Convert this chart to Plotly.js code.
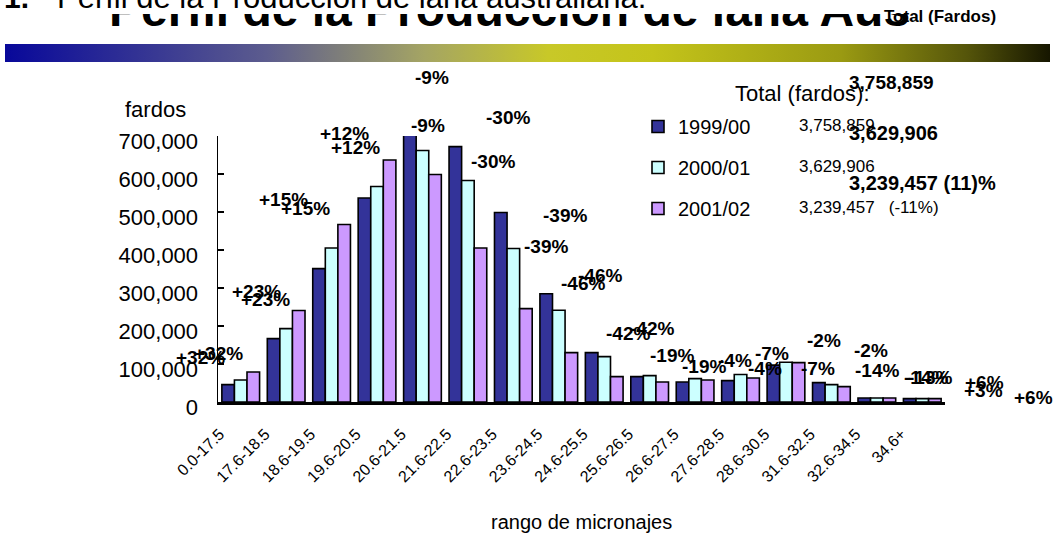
<!DOCTYPE html>
<html><head><meta charset="utf-8">
<script src="https://cdn.plot.ly/plotly-3.0.1.min.js"></script>
<style>html,body{margin:0;padding:0;background:#fff;overflow:hidden}#chart{width:1055px;height:533px}</style>
</head><body><div id="chart"></div>
<script>
// ---------- data ----------
const categories = ["0.0-17.5","17.6-18.5","18.6-19.5","19.6-20.5","20.6-21.5","21.6-22.5","22.6-23.5","23.6-24.5","24.6-25.5","25.6-26.5","26.6-27.5","27.6-28.5","28.6-30.5","31.6-32.5","32.6-34.5","34.6+"];
const seriesNames = ["1999/00","2000/01","2001/02"];
const bales1999 = [45800,166900,351000,537000,703800,672000,498500,285000,130000,66800,52600,56300,97000,51000,10500,9000];
const bales2000 = [57900,193200,405300,567000,661700,582700,403800,241300,119500,69500,61600,72500,104500,45800,10500,9000];
const bales2001 = [79000,240600,467000,637000,598500,405300,245800,130000,66800,52600,57900,63200,103700,40500,10500,9000];
const totalValues = ["3,758,859","3,629,906","3,239,457   (-11%)"];
const totalBold = ["3,758,859","3,629,906","3,239,457 (11)%"];
const yTickVals = [0,100000,200000,300000,400000,500000,600000,700000];
const changeLabels = ["-9%","-9%","-30%","-30%","+12%","+12%","+15%","+15%","+23%","+23%","+32%","+32%","-39%","-39%","-46%","-46%","-42%","-42%","-19%","-19%","-4%","-4%","-7%","-7%","-2%","-2%","-14%","-14%","-13%","+6%","+3%","+6%"];

// ---------- layout helpers ----------
const FONT = "Liberation Sans, Arial, sans-serif";
const L = 218, R = 945, T = 136, B = 402;
const px = x => (x - L) / (R - L);
const py = y => (B - y) / (B - T);
const colors = ["#333399", "#CCFFFF", "#CC99FF"];
const series = [bales1999, bales2000, bales2001];

const traces = series.map((vals, i) => ({
  type: "bar", x: categories, y: vals, name: seriesNames[i],
  legendgroup: "g" + i,
  marker: {color: colors[i], line: {color: "#000", width: 1.6}},
  cliponaxis: false, hoverinfo: "x+y"
}));

// label placement (pixel centres), kept apart from the data
const labelPos = [[432,77],[428,125],[508,117],[493,161],[344,133],[355,147],[283,199],[305,208],[256,291],[265,299],[200,357],[218,353],[565,215],[546,246],[583,283],[600,275],[628,333],[652,328],[672,355],[704,366],[735,360],[765,368],[772,353],[818,368],[824,340],[871,350],[877,370],[926,377],[930,377],[984,382],[983,390],[1033,397]];

const ann = [];
// big title: only its lower part shows, the rest is clipped by a fixed-height box
ann.push({xref:"paper", yref:"paper", x: px(108), y: py(12.5), text:"Perfil de la Producción de lana Aus", showarrow:false,
  xanchor:"left", yanchor:"top", width: 830, height: 22, align:"left", valign:"bottom", borderpad: 0,
  font:{family:FONT, size:48, color:"#000", weight:700}});
ann.push({xref:"paper", yref:"paper", x: px(31), y: py(-2.5), text:"<b>a 1.</b>", showarrow:false,
  xanchor:"right", yanchor:"middle", font:{family:FONT, size:30, color:"#000"}});
ann.push({xref:"paper", yref:"paper", x: px(55), y: py(-2.5), text:"Perfil de la Producción de lana australiana.", showarrow:false,
  xanchor:"left", yanchor:"middle", font:{family:FONT, size:31, color:"#000"}});
ann.push({xref:"paper", yref:"paper", x: px(940), y: py(17), text:"Total (Fardos)", showarrow:false,
  xanchor:"center", yanchor:"middle", font:{family:FONT, size:17, color:"#000", weight:700}});

changeLabels.forEach((t, i) => {
  ann.push({xref:"paper", yref:"paper", x: px(labelPos[i][0]), y: py(labelPos[i][1]),
    text: t, showarrow:false, xanchor:"center", yanchor:"middle",
    font:{family:FONT, size:19, color:"#000", weight:700}});
});
// legend totals
const rowY = [126, 166, 207];
totalValues.forEach((t, i) => {
  ann.push({xref:"paper", yref:"paper", x: px(797), y: py(rowY[i]), text: t, showarrow:false,
    xanchor:"left", yanchor:"middle", font:{family:FONT, size:17, color:"#000"}});
});
ann.push({xref:"paper", yref:"paper", x: px(733), y: py(94), text:"Total (fardos):", showarrow:false,
  xanchor:"left", yanchor:"middle", font:{family:FONT, size:22, color:"#000"}});
const boldPos = [[847,82,19],[847,133,20],[847,183,20]];
totalBold.forEach((t, i) => {
  ann.push({xref:"paper", yref:"paper", x: px(boldPos[i][0]), y: py(boldPos[i][1]), text: t, showarrow:false,
    xanchor:"left", yanchor:"middle", font:{family:FONT, size:boldPos[i][2], color:"#000", weight:700}});
});
// axis captions
ann.push({xref:"paper", yref:"paper", x: px(155), y: py(110), text:"fardos", showarrow:false,
  xanchor:"center", yanchor:"middle", font:{family:FONT, size:22, color:"#000"}});
ann.push({xref:"paper", yref:"paper", x: 0.5, y: py(522), text:"rango de micronajes", showarrow:false,
  xanchor:"center", yanchor:"middle", font:{family:FONT, size:20, color:"#000"}});

const grad = '<svg xmlns="http://www.w3.org/2000/svg" width="1045" height="18" preserveAspectRatio="none">' +
  '<defs><linearGradient id="g" x1="0" x2="1" y1="0" y2="0">' +
  '<stop offset="0" stop-color="#08089a"/><stop offset="0.25" stop-color="#5c5c8e"/>' +
  '<stop offset="0.4" stop-color="#a4a464"/><stop offset="0.52" stop-color="#c8c828"/>' +
  '<stop offset="0.62" stop-color="#c4c41a"/><stop offset="0.8" stop-color="#9a9a12"/>' +
  '<stop offset="0.92" stop-color="#55550a"/><stop offset="1" stop-color="#161600"/>' +
  '</linearGradient></defs><rect width="1045" height="18" fill="url(#g)"/></svg>';

const layout = {
  width: 1055, height: 533,
  margin: {l: L, r: 1055 - R, t: T, b: 533 - B, pad: 0},
  paper_bgcolor: "#fff", plot_bgcolor: "#fff",
  barmode: "group", bargap: 0.17, bargroupgap: 0,
  font: {family: FONT, color: "#000"},
  showlegend: true,
  legend: {x: px(638), y: py(107), xanchor: "left", yanchor: "top",
    font: {family: FONT, size: 20, color: "#000"}, bgcolor: "rgba(0,0,0,0)",
    traceorder: "grouped", tracegroupgap: 12, itemwidth: 30, itemclick: false, itemdoubleclick: false},
  xaxis: {type: "category", showline: true, linecolor: "#000", linewidth: 2.5,
    ticks: "", showgrid: false, zeroline: false, tickangle: -45,
    tickfont: {family: "Liberation Sans Narrow, Arial Narrow, Liberation Sans, Arial", size: 16, color: "#000"},
    ticklabelshift: -21, ticklabelstandoff: 14},
  yaxis: {range: [0, 700000], showline: true, linecolor: "#000", linewidth: 1.5,
    ticks: "inside", ticklen: 6, tickcolor: "#000", tickwidth: 1.5,
    tickvals: yTickVals, tickformat: ",d", showgrid: false, zeroline: false,
    tickfont: {family: FONT, size: 22, color: "#000"}, ticklabelstandoff: 14, ticklabelshift: 5},
  annotations: ann,
  images: [{source: "data:image/svg+xml;base64," + btoa(grad), xref: "paper", yref: "paper",
    x: px(5), y: py(44), sizex: px(1050) - px(5), sizey: py(44) - py(62),
    xanchor: "left", yanchor: "top", sizing: "stretch", layer: "below"}]
};
Plotly.newPlot("chart", traces, layout, {staticPlot: true, displayModeBar: false});
</script></body></html>
